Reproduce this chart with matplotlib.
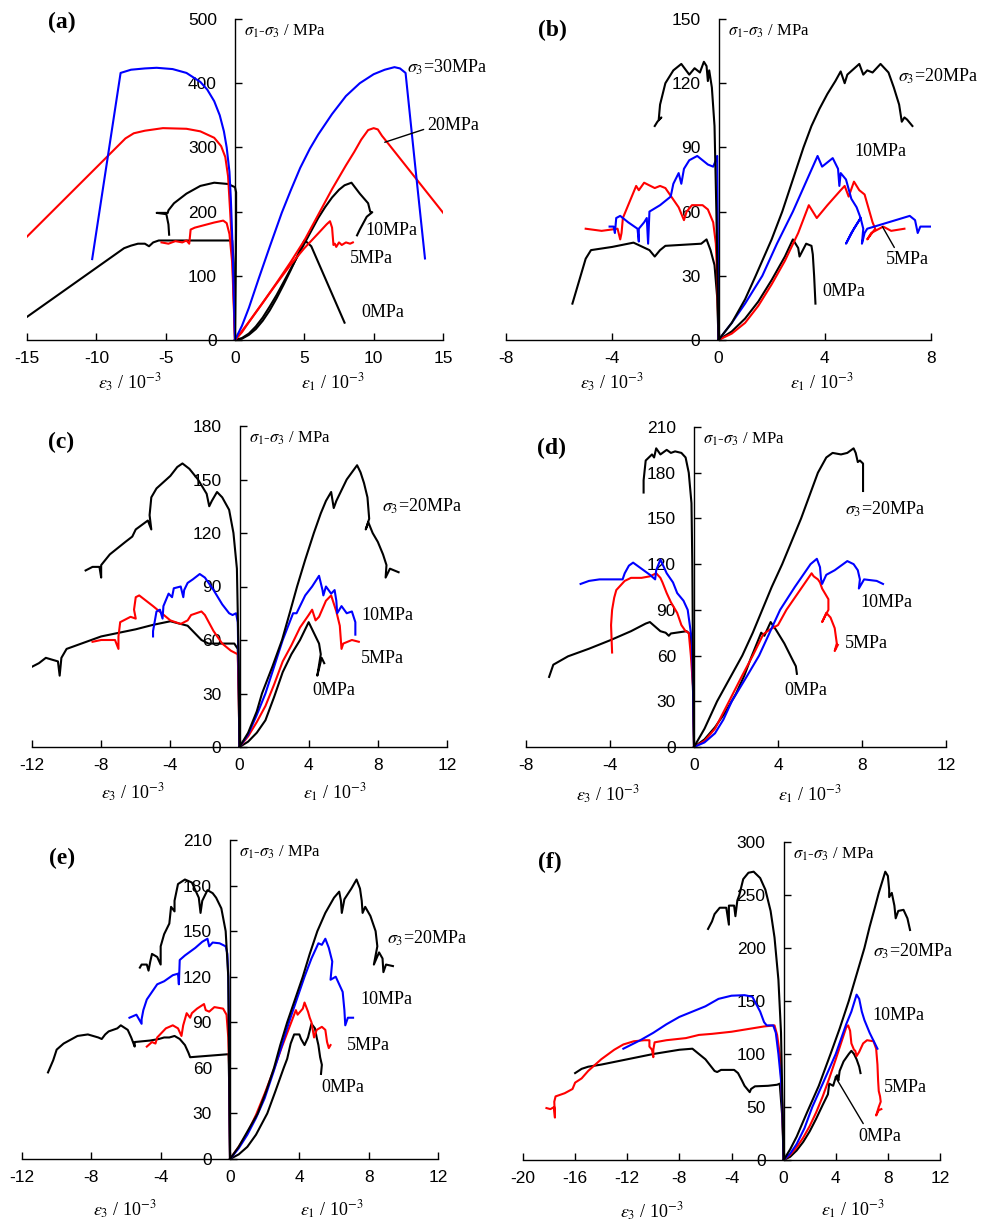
import matplotlib
matplotlib.use('Agg')
import matplotlib.pyplot as plt

plt.rcParams['font.family'] = ['Liberation Serif', 'DejaVu Serif']
plt.rcParams['mathtext.fontset'] = 'stix'
plt.rcParams['axes.unicode_minus'] = False

W, H = 991, 1222
BLUE, RED, BLACK = '#0000ff', '#ff0000', '#000000'

# ---------------- panel (a) ----------------
a_30_e1 = [(0,0),(0.5,22),(1,50),(1.7,95),(2.5,145),(3.37,198),(4,232),(4.7,268),(5.4,298),(6,320),(7,352),
           (8,380),(9,400),(10,414),(10.8,421),(11.5,425),(11.9,423),(12.3,416),(13.0,270),(13.7,127)]
a_30_e3 = [(0,0),(-0.1,80),(-0.2,160),(-0.3,220),(-0.4,262),(-0.6,300),(-0.8,325),(-1.1,350),(-1.5,372),
           (-2,390),(-2.5,402),(-3.5,416),(-4.5,422),(-5.65,424),(-6.5,423),(-7.5,421),(-8.25,416),(-10.3,126)]
a_20_e1 = [(0,0),(0.5,12),(1,28),(2,58),(3,89),(4,121),(5,155),(6,195),(7,235),(8,272),(8.6,293),(9.1,312),
           (9.6,327),(10,330),(10.3,328),(10.6,318),(10.9,310),(15.2,193)]
a_20_e3 = [(0,0),(-0.1,70),(-0.2,140),(-0.35,200),(-0.5,255),(-0.7,285),(-1,302),(-1.5,315),(-2.5,325),
           (-3.5,329),(-5.2,330),(-6.5,326),(-7.3,322),(-7.9,314),(-15,161)]
a_10_e1 = [(0,0),(0.5,3),(1,10),(1.5,21),(2,35),(2.5,52),(3,70),(3.5,90),(4,110),(5,150),(6,190),(6.5,207),
           (7,222),(7.5,234),(7.9,241),(8.4,245),(9.0,228),(9.6,213),(9.75,200),(9.9,199),(9.5,192),
           (9.0,172),(8.8,163)]
a_10_e3 = [(0,0),(0.05,100),(0.08,180),(0.08,230),(0,238),(-0.5,243),(-1.5,245),(-2.5,240),(-3.5,228),
           (-4.4,213),(-4.8,202),(-4.85,198),(-5.65,198),(-4.95,196),(-4.8,180),(-4.75,164)]
a_5_e1 = [(0,0),(1,28),(2,58),(3,88),(4,117),(5,143),(6,166),(6.6,180),(6.85,185),(7.0,175),(7.1,148),
          (7.2,150),(7.3,145),(7.5,152),(7.7,148),(8.0,152),(8.3,150),(8.5,152)]
a_5_e3 = [(0,0),(-0.1,60),(-0.2,120),(-0.4,165),(-0.6,182),(-0.85,186),(-1.5,183),(-2.9,175),(-3.2,172),
          (-3.3,150),(-3.5,155),(-3.8,152),(-4.3,154),(-4.8,150),(-5.3,152)]
a_0_e1 = [(0,0),(0.5,2),(1,8),(1.5,17),(2,30),(2.5,46),(3,65),(3.5,86),(4,108),(4.5,131),(5,155),(5.2,152),
          (5.5,146),(7.9,27)]
a_0_e3 = [(0,0),(-0.05,60),(-0.1,120),(-0.2,155),(-5.5,155),(-5.9,152),(-6.2,146),(-6.5,150),(-7.0,150),
          (-7.5,147),(-8.0,143),(-15,36)]

# ---------------- panel (b) ----------------
b_20_e1 = [(0,0),(0.5,8),(1,19),(1.4,30),(2,47),(2.4,60),(2.8,75),(3.2,90),(3.5,100),(3.8,108),(4.1,115),
           (4.4,121),(4.6,125.5),(4.75,120),(4.85,124),(5.3,129),(5.45,124),(5.6,126),(5.8,125),(6.1,129),
           (6.4,125),(6.6,118),(6.8,110),(6.9,102),(7.0,104),(7.1,103),(7.3,100)]
b_20_e3 = [(0,0),(-0.08,60),(-0.15,100),(-0.25,118),(-0.3,122),(-0.35,126),(-0.4,121),(-0.45,128),(-0.55,130),
           (-0.7,125),(-0.9,127),(-1.1,124),(-1.4,129),(-1.7,126),(-2.0,120),(-2.2,110),(-2.25,103),
           (-2.15,104),(-2.3,102),(-2.4,100)]
b_10_e1 = [(0,0),(0.5,8),(1,17),(1.65,30),(2.2,45),(2.8,60),(3.3,74),(3.73,86),(3.9,81),(4.3,85),(4.5,80),
           (4.55,72),(4.6,78),(4.8,75),(5.0,66),(5.2,62),(5.35,57),(5.1,52),(4.8,45),(5.0,50),(5.35,57),
           (5.45,52),(5.4,45),(5.5,50),(5.6,52),(6.4,55),(7.2,58),(7.4,56),(7.5,50),(7.6,53),(8.0,53)]
b_10_e3 = [(0,0),(-0.02,40),(-0.04,70),(-0.05,86),(-0.1,84),(-0.2,81),(-0.4,82),(-0.8,86),(-1.1,84),
           (-1.3,80),(-1.4,73),(-1.5,78),(-1.7,73),(-1.8,67),(-2.2,63),(-2.6,60),(-2.65,45),(-2.7,57),
           (-2.8,55),(-3.0,52),(-3.0,46),(-3.05,52),(-3.4,55),(-3.7,58),(-3.85,57),(-3.9,50),(-3.95,53),(-4.1,53)]
b_5_e1 = [(0,0),(0.5,3),(1,8),(1.5,16),(2,26),(2.5,37),(3,50),(3.4,63),(3.7,57),(4.1,63),(4.6,70),(4.75,72),
          (4.9,67),(5.1,74),(5.3,70),(5.5,68),(5.8,55),(5.9,52),(5.6,47),(5.75,50),(6.2,53),(6.5,51),(7,52)]
b_5_e3 = [(0,0),(-0.05,30),(-0.1,45),(-0.2,55),(-0.4,61),(-0.6,63),(-1.0,63),(-1.2,60),(-1.3,56),(-1.5,62),
          (-2.0,71),(-2.2,72),(-2.4,71),(-2.8,73.5),(-3.0,70),(-3.1,72),(-3.6,57),(-3.65,50),(-3.7,47),
          (-3.8,52),(-4.4,51),(-5,52)]
b_0_e1 = [(0,0),(0.5,4),(1,10),(1.5,18),(2,28),(2.5,39),(2.8,47),(3.0,43),(3.05,39),(3.3,45),(3.5,44),
          (3.55,40),(3.6,30),(3.65,17)]
b_0_e3 = [(0,0),(-0.05,20),(-0.15,35),(-0.3,42),(-0.45,47),(-0.55,46),(-0.65,45),(-2.0,44),(-2.2,42),
          (-2.4,39),(-2.6,42),(-3.2,45.5),(-4.0,43.5),(-4.8,42),(-5.0,38),(-5.5,17)]

# ---------------- panel (c) ----------------
c_20_e1 = [(0,0),(0.5,8),(1,20),(1.3,30),(1.9,45),(2.46,60),(2.9,75),(3.33,90),(3.8,105),(4.3,120),(4.7,131),
           (5.0,138),(5.3,143),(5.45,134),(5.6,138),(6.2,150),(6.8,158),(7.0,154),(7.2,148),(7.4,140),
           (7.5,128),(7.3,122),(7.45,126),(7.7,120),(8.0,115),(8.3,108),(8.5,102),(8.45,95),(8.7,100),(9.2,98)]
c_20_e3 = [(0,0),(-0.05,50),(-0.15,100),(-0.35,120),(-0.6,133),(-1.0,140),(-1.3,143),(-1.6,138),(-1.75,135),
           (-1.9,142),(-2.4,150),(-2.9,156),(-3.3,159),(-3.6,157),(-4.0,152),(-4.8,145),(-5.1,140),
           (-5.2,130),(-5.1,122),(-5.3,127),(-6.0,122),(-6.2,118),(-6.6,115),(-7.5,108),(-8.0,102),
           (-8.0,95),(-8.1,101),(-8.5,101),(-8.9,99)]
c_10_e1 = [(0,0),(0.5,7),(1,18),(1.5,30),(2,45),(2.5,60),(3.1,75),(3.3,75),(3.8,85),(4.2,90),(4.6,96),
           (4.8,88),(4.85,85),(5.0,90),(5.3,86),(5.5,88),(5.6,82),(5.65,75),(5.9,79),(6.2,75),(6.5,76),
           (6.7,70),(6.7,63)]
c_10_e3 = [(0,0),(-0.05,40),(-0.1,70),(-0.2,75),(-0.4,74),(-0.6,75),(-1.0,80),(-1.5,88),(-2.0,95),(-2.3,97),
           (-2.7,94),(-3.0,92),(-3.2,88),(-3.25,84),(-3.4,90),(-3.8,89),(-3.9,84),(-4.1,86),(-4.4,79),
           (-4.45,72),(-4.6,77),(-4.8,76),(-5.0,65),(-5.0,62)]
c_5_e1 = [(0,0),(0.5,6),(1,14),(1.5,23),(2,35),(2.5,48),(3,57),(3.5,67),(4,74),(4.2,77),(4.4,71),(4.6,73),
          (5.0,82),(5.3,85),(5.6,76),(5.8,68),(5.9,55),(6.0,58),(6.5,60),(6.9,59)]
c_5_e3 = [(0,0),(-0.05,30),(-0.1,52),(-0.5,54),(-1.0,58),(-1.5,65),(-2.0,74),(-2.2,76),(-2.8,74),(-3.0,71),
          (-3.4,69),(-4,71),(-4.5,75),(-5,79),(-5.8,85),(-6.0,84),(-6.1,77),(-6.0,72),(-6.3,73),(-6.9,70),
          (-7.0,62),(-7.0,55),(-7.2,60),(-8,60),(-8.5,59)]
c_0_e1 = [(0,0),(0.5,3),(1,8),(1.5,15),(2,28),(2.5,42),(3,52),(3.5,60),(4,70),(4.3,64),(4.6,58),(4.7,52),
          (4.5,40),(4.75,50),(4.9,47)]
c_0_e3 = [(0,0),(-0.05,30),(-0.1,55),(-0.3,58),(-1.0,58),(-1.8,58),(-2.2,60),(-2.6,64),(-3.0,68),(-3.4,69),
          (-4,70.5),(-5,68.5),(-6,66),(-8,62),(-10,55),(-10.3,50),(-10.4,40),(-10.5,48),(-11.2,50),
          (-11.6,47),(-12,45)]

# ---------------- panel (d) ----------------
d_20_e1 = [(0,0),(0.5,12),(1.1,30),(1.7,45),(2.3,60),(2.8,75),(3.25,90),(3.7,105),(4.2,120),(4.65,135),
           (5.1,150),(5.5,165),(5.9,180),(6.3,190),(6.6,193),(7,192),(7.3,193),(7.6,196),(7.7,193),(7.8,187),
           (7.9,188),(8.05,186),(8.05,168)]
d_20_e3 = [(0,0),(-0.05,60),(-0.08,120),(-0.12,160),(-0.25,180),(-0.4,190),(-0.6,193),(-0.9,194),(-1.1,193),
           (-1.3,195),(-1.6,192),(-1.8,196),(-1.9,190),(-2.0,192),(-2.3,188),(-2.4,175),(-2.4,167)]
d_10_e1 = [(0,0),(0.5,3),(1,9),(1.4,18),(1.8,30),(2.5,46),(3.1,60),(3.6,75),(4.1,90),(4.8,105),(5.55,120),
           (5.85,123.5),(6.0,118),(6.05,110),(6.1,107),(6.3,113),(6.7,116),(7.3,122),(7.6,120),(7.8,116),
           (7.9,110),(7.85,104),(8.1,110),(8.7,109),(9.0,107)]
d_10_e3 = [(0,0),(-0.05,40),(-0.1,70),(-0.3,90),(-0.5,96),(-0.8,101),(-1.0,108),(-1.3,114),(-1.5,120),
           (-1.6,123),(-1.8,116),(-1.85,110),(-2.1,113),(-2.6,118),(-2.9,121),(-3.1,119),(-3.3,114),
           (-3.4,110),(-3.6,110),(-4.5,110),(-5.0,109),(-5.4,107)]
d_5_e1 = [(0,0),(0.5,4),(1,12),(1.67,30),(2.3,47),(2.8,60),(3.3,74),(3.6,77),(4.0,80),(4.4,90),(5.0,102),
          (5.6,114),(5.7,112),(5.9,110),(6.0,108),(6.1,104),(6.4,97),(6.4,90),(6.1,82),(6.3,88),(6.5,85),
          (6.7,78),(6.8,68),(6.7,63),(6.85,67)]
d_5_e3 = [(0,0),(-0.05,40),(-0.15,60),(-0.25,75),(-0.4,76),(-0.6,80),(-0.8,88),(-1.1,95),(-1.3,101),
          (-1.5,108),(-1.6,111),(-1.8,114),(-2.1,112),(-2.5,111),(-3.0,111),(-3.3,109),(-3.7,103),
          (-3.8,98),(-3.9,90),(-3.95,80),(-3.9,62)]
d_0_e1 = [(0,0),(0.5,5),(1,13),(1.5,23),(2,35),(2.4,47),(2.7,58),(3.2,75),(3.35,73),(3.45,76),(3.65,82),
          (3.9,77),(4.3,68),(4.7,57),(4.85,53),(4.9,48)]
d_0_e3 = [(0,0),(-0.05,40),(-0.1,60),(-0.2,74),(-0.35,76),(-0.6,75.5),(-1.1,74.5),(-1.2,73),(-1.35,75),
          (-1.6,76),(-2.1,82),(-2.3,81),(-3,76),(-4,70),(-5,64.5),(-6,59.5),(-6.7,54),(-6.8,50),(-6.9,46)]

# ---------------- panel (e) ----------------
e_20_e1 = [(0,0),(0.5,8),(1,18),(1.6,30),(2.1,45),(2.54,60),(2.9,75),(3.3,90),(3.75,105),(4.2,120),(4.6,135),
           (5.04,150),(5.5,162),(6.0,172),(6.3,176),(6.4,170),(6.45,162),(6.6,171),(7.0,178),(7.3,184),
           (7.5,178),(7.6,170),(7.65,162),(7.8,166),(8.1,160),(8.4,150),(8.5,140),(8.3,128),(8.6,136),
           (8.8,132),(8.85,123),(9.0,128),(9.4,127)]
e_20_e3 = [(0,0),(-0.05,60),(-0.1,120),(-0.25,150),(-0.5,165),(-0.8,172),(-1.0,175),(-1.3,177),(-1.6,170),
           (-1.7,162),(-1.8,172),(-2.2,182),(-2.6,184),(-3.0,181),(-3.2,170),(-3.2,163),(-3.4,166),
           (-3.5,155),(-3.8,148),(-4.0,140),(-4.0,128),(-4.2,133),(-4.5,135),(-4.6,130),(-4.7,124),
           (-4.8,128),(-5.1,128),(-5.2,126)]
e_10_e1 = [(0,0),(0.5,7),(1,16),(1.5,27),(2,40),(2.5,57),(3,75),(3.4,90),(3.85,105),(4.3,120),(4.7,132),
           (5.1,142),(5.3,141),(5.5,145),(5.7,139),(5.9,130),(5.8,118),(6.1,120),(6.5,110),(6.6,98),
           (6.65,88),(6.8,93),(7.1,93)]
e_10_e3 = [(0,0),(-0.05,80),(-0.1,120),(-0.15,135),(-0.25,140),(-0.6,142),(-1.0,142.5),(-1.2,140),
           (-1.3,145),(-1.6,143),(-2.0,139),(-2.6,134),(-2.9,131),(-2.95,115),(-3.0,122),(-3.3,121),
           (-3.8,117),(-4.2,115),(-4.8,105),(-5.0,98),(-5.1,92),(-5.1,89),(-5.4,95),(-5.8,93)]
e_5_e1 = [(0,0),(0.5,8),(1,17),(1.5,29),(2,43),(2.5,58),(3,74),(3.4,86),(3.8,98),(3.9,95),(4.2,99),(4.3,103),
          (4.5,97),(4.6,93),(4.7,90),(4.85,80),(5.0,85),(5.3,87),(5.5,85),(5.6,77),(5.7,73),(5.8,75)]
e_5_e3 = [(0,0),(-0.05,60),(-0.1,80),(-0.2,95),(-0.4,99),(-0.9,100),(-1.2,97),(-1.4,98),(-1.5,102),
          (-1.9,99),(-2.2,96),(-2.3,93),(-2.5,96),(-2.6,92),(-2.7,88),(-2.8,81),(-3.0,86),(-3.3,88),
          (-3.7,86),(-4.2,80),(-4.3,76),(-4.5,77),(-4.8,74)]
e_0_e1 = [(0,0),(0.5,3),(1,8),(1.5,16),(2.15,30),(2.6,44),(3.1,60),(3.3,66),(3.5,76),(3.7,82),(4.0,82),
          (4.1,79),(4.3,75),(4.5,80),(4.7,89),(4.9,86),(5.0,80),(5.1,75),(5.2,67),(5.3,62),(5.25,56)]
e_0_e3 = [(0,0),(-0.05,50),(-0.08,69),(-2.3,67),(-2.4,70),(-2.6,75),(-2.9,79),(-3.2,81),(-3.5,80),
          (-3.8,80),(-4.1,79),(-4.6,78),(-5.5,77),(-5.5,74),(-5.6,77),(-5.7,80),(-5.9,85),(-6.3,88),
          (-6.5,86),(-7.0,84),(-7.2,82),(-7.4,79),(-7.6,80),(-8.2,82),(-8.8,81),(-9.6,76),(-10.0,72),
          (-10.2,65),(-10.5,57)]

# ---------------- panel (f) ----------------
f_20_e1 = [(0,0),(0.5,10),(1,22),(1.8,45),(2.7,70),(3.6,100),(4.3,124),(5.0,150),(5.6,175),(6.2,200),
           (6.6,220),(7.0,238),(7.3,252),(7.6,264),(7.8,272),(8.0,268),(8.1,255),(8.1,248),(8.3,252),
           (8.5,240),(8.6,228),(8.8,235),(9.2,236),(9.5,228),(9.7,217)]
f_20_e3 = [(0,0),(-0.1,60),(-0.2,120),(-0.4,170),(-0.7,210),(-1.0,235),(-1.4,255),(-1.8,266),(-2.3,272),
           (-2.7,271),(-3.1,265),(-3.3,255),(-3.4,250),(-3.55,245),(-3.7,230),(-3.8,240),(-4.2,240),
           (-4.2,222),(-4.4,238),(-4.9,238),(-5.3,232),(-5.5,225),(-5.8,218)]
f_10_e1 = [(0,0),(0.5,6),(1,15),(1.6,30),(2.2,50),(3,72),(3.5,86),(4.0,100),(4.8,128),(5.2,140),(5.6,156),
           (5.8,152),(6.0,140),(6.2,132),(6.6,120),(7.0,110),(7.2,105)]
f_10_e3 = [(0,0),(-0.1,50),(-0.2,75),(-0.4,100),(-0.6,120),(-0.8,127),(-1.3,127),(-1.5,130),(-1.8,140),
           (-2.1,147),(-2.4,154),(-3.0,155.5),(-4.0,155),(-5.0,152),(-6.0,145),(-7,140),(-8,135),(-9.0,128),
           (-10,120),(-11,113),(-12.3,105)]
f_5_e1 = [(0,0),(0.5,5),(1,12),(1.5,21),(2,32),(2.5,45),(3,60),(3.5,77),(4,95),(4.4,110),(4.8,125),(4.95,127),
          (5.1,122),(5.2,110),(5.4,104),(5.5,103),(5.6,98),(5.8,102),(6.1,110),(6.4,113),(6.9,112),(7.1,105),
          (7.2,90),(7.25,75),(7.3,65),(7.4,60),(7.45,55),(7.3,50),(7.1,42),(7.3,47),(7.5,48)]
f_5_e3 = [(0,0),(-0.1,50),(-0.2,80),(-0.3,100),(-0.5,118),(-0.7,127),(-1.5,126),(-2.5,124),(-4,121),
          (-5.5,119),(-6.5,118),(-7.5,115),(-9.0,113),(-9.9,111),(-10.0,104),(-10.0,97),(-10.1,104),
          (-10.3,107),(-10.3,113),(-10.7,113),(-11.5,112),(-12.3,109),(-13,104),(-14,95),(-15,84),
          (-15.5,77),(-16,73),(-16.2,67),(-16.8,63),(-17.5,60),(-17.6,55),(-17.55,40),(-17.6,50),
          (-17.9,48),(-18.2,49)]
f_0_e1 = [(0,0),(0.5,3),(1,9),(1.5,17),(2,27),(2.5,39),(3,52),(3.4,62),(3.5,72),(3.8,70),(4.0,78),(4.1,80),
          (4.2,75),(4.3,84),(4.6,93),(5.0,100),(5.2,103),(5.4,100),(5.6,95),(5.8,88),(5.9,82)]
f_0_e3 = [(0,0),(-0.1,40),(-0.3,72),(-0.5,71),(-1.2,70),(-2.2,69.5),(-2.5,67),(-2.6,64),(-3.0,70),
          (-3.2,75),(-3.5,82),(-3.8,85),(-4.8,85),(-5.1,83),(-5.3,84),(-6.0,95),(-6.5,100),(-7.0,105),
          (-8,104),(-10,100),(-12,95),(-14,90),(-15,88),(-15.5,86),(-16,82)]

# axis ranges / ticks
a_xticks, a_yticks = [-15, -10, -5, 0, 5, 10, 15], [0, 100, 200, 300, 400, 500]
b_xticks, b_yticks = [-8, -4, 0, 4, 8], [0, 30, 60, 90, 120, 150]
c_xticks, c_yticks = [-12, -8, -4, 0, 4, 8, 12], [0, 30, 60, 90, 120, 150, 180]
d_xticks, d_yticks = [-8, -4, 0, 4, 8, 12], [0, 30, 60, 90, 120, 150, 180, 210]
e_xticks, e_yticks = [-12, -8, -4, 0, 4, 8, 12], [0, 30, 60, 90, 120, 150, 180, 210]
f_xticks, f_yticks = [-20, -16, -12, -8, -4, 0, 4, 8, 12], [0, 50, 100, 150, 200, 250, 300]

fig = plt.figure(figsize=(W / 100, H / 100), dpi=100)


def add_ax(l, r, b, t):
    return fig.add_axes([l / W, 1 - b / H, (r - l) / W, (b - t) / H])


def fp(x, y):
    return x / W, 1 - y / H


def setup(ax, xt, yt):
    ax.set_xlim(xt[0], xt[-1])
    ax.set_ylim(yt[0], yt[-1])
    ax.patch.set_visible(False)
    ax.spines['left'].set_position(('data', 0))
    ax.spines['top'].set_visible(False)
    ax.spines['right'].set_visible(False)
    for s in ('left', 'bottom'):
        ax.spines[s].set_linewidth(1.0)
    ax.set_xticks(xt)
    ax.set_yticks(yt)
    ax.tick_params(direction='in', length=5, width=1.0, labelsize=12.5)
    ax.tick_params(axis='y', pad=13)
    ax.tick_params(axis='x', pad=8)
    for lab in ax.get_xticklabels() + ax.get_yticklabels():
        lab.set_fontfamily('Liberation Sans')
    ax.annotate(r'$\sigma_1$-$\sigma_3$ / MPa', xy=(0, yt[-1]), xycoords='data',
                xytext=(6.5, -9), textcoords='offset points', ha='left', va='center', fontsize=12)


def draw(ax, curves):
    for pts, col in curves:
        xs = [p[0] for p in pts]
        ys = [p[1] for p in pts]
        ax.plot(xs, ys, color=col, lw=1.5, solid_joinstyle='round')


def lab(ax, s, x, y, leader=None, relpos=(0, 0.5)):
    if leader is None:
        ax.text(x, y, s, ha='left', va='center', fontsize=13)
    else:
        ax.annotate(s, xy=leader, xytext=(x, y), ha='left', va='center', fontsize=13,
                    arrowprops=dict(arrowstyle='-', lw=1.0, color='black', shrinkA=1, shrinkB=0,
                                    relpos=relpos))


S30 = r'$\sigma_3$=30MPa'
S20 = r'$\sigma_3$=20MPa'

# (a)
ax = add_ax(27, 443, 340, 19)
setup(ax, a_xticks, a_yticks)
draw(ax, [(a_0_e1, BLACK), (a_0_e3, BLACK), (a_10_e1, BLACK), (a_10_e3, BLACK),
          (a_5_e1, RED), (a_5_e3, RED), (a_20_e1, RED), (a_20_e3, RED),
          (a_30_e1, BLUE), (a_30_e3, BLUE)])
lab(ax, S30, 12.4, 424)
lab(ax, '20MPa', 13.9, 334, leader=(10.8, 308), relpos=(0, 0.35))
lab(ax, '10MPa', 9.4, 171)
lab(ax, '5MPa', 8.3, 127)
lab(ax, '0MPa', 9.1, 43)

# (b)
ax = add_ax(506, 931, 340, 19)
setup(ax, b_xticks, b_yticks)
draw(ax, [(b_0_e1, BLACK), (b_0_e3, BLACK), (b_5_e1, RED), (b_5_e3, RED),
          (b_10_e1, BLUE), (b_10_e3, BLUE), (b_20_e1, BLACK), (b_20_e3, BLACK)])
lab(ax, S20, 6.74, 123)
lab(ax, '10MPa', 5.1, 88)
lab(ax, '5MPa', 6.3, 37.4, leader=(6.17, 53), relpos=(0.25, 1.0))
lab(ax, '0MPa', 3.9, 22.6)

# (c)
ax = add_ax(32, 447, 747, 426)
setup(ax, c_xticks, c_yticks)
draw(ax, [(c_0_e1, BLACK), (c_0_e3, BLACK), (c_5_e1, RED), (c_5_e3, RED),
          (c_10_e1, BLUE), (c_10_e3, BLUE), (c_20_e1, BLACK), (c_20_e3, BLACK)])
lab(ax, S20, 8.24, 135)
lab(ax, '10MPa', 7.04, 74)
lab(ax, '5MPa', 7.04, 49.6)
lab(ax, '0MPa', 4.2, 31.8)

# (d)
ax = add_ax(526, 946, 747, 427)
setup(ax, d_xticks, d_yticks)
draw(ax, [(d_0_e1, BLACK), (d_0_e3, BLACK), (d_5_e1, RED), (d_5_e3, RED),
          (d_10_e1, BLUE), (d_10_e3, BLUE), (d_20_e1, BLACK), (d_20_e3, BLACK)])
lab(ax, S20, 7.19, 156)
lab(ax, '10MPa', 7.94, 95)
lab(ax, '5MPa', 7.19, 68)
lab(ax, '0MPa', 4.29, 37)

# (e)
ax = add_ax(22, 438, 1159, 840)
setup(ax, e_xticks, e_yticks)
draw(ax, [(e_0_e1, BLACK), (e_0_e3, BLACK), (e_5_e1, RED), (e_5_e3, RED),
          (e_10_e1, BLUE), (e_10_e3, BLUE), (e_20_e1, BLACK), (e_20_e3, BLACK)])
lab(ax, S20, 9.08, 145)
lab(ax, '10MPa', 7.54, 105)
lab(ax, '5MPa', 6.73, 75)
lab(ax, '0MPa', 5.29, 47)

# (f)
ax = add_ax(523, 940, 1160, 842)
setup(ax, f_xticks, f_yticks)
draw(ax, [(f_0_e1, BLACK), (f_0_e3, BLACK), (f_5_e1, RED), (f_5_e3, RED),
          (f_10_e1, BLUE), (f_10_e3, BLUE), (f_20_e1, BLACK), (f_20_e3, BLACK)])
lab(ax, S20, 6.84, 197)
lab(ax, '10MPa', 6.78, 136)
lab(ax, '5MPa', 7.73, 68.5)
lab(ax, '0MPa', 5.73, 22.6, leader=(3.97, 78.5), relpos=(0.17, 1.0))

# panel letters
for s, x, y in [('(a)', 62, 22), ('(b)', 552, 30), ('(c)', 61, 442),
                ('(d)', 552, 448), ('(e)', 62, 858), ('(f)', 550, 862)]:
    fig.text(*fp(x, y), s, ha='center', va='center', fontsize=17, fontweight='bold')

# x-axis labels
E3 = r'$\varepsilon_3$ / 10$^{-3}$'
E1 = r'$\varepsilon_1$ / 10$^{-3}$'
for s, x, y in [(E3, 130, 383), (E1, 333, 383), (E3, 612, 383), (E1, 822, 383),
                (E3, 133, 793), (E1, 335, 793), (E3, 608, 795), (E1, 810, 795),
                (E3, 125, 1210), (E1, 332, 1210), (E3, 652, 1212), (E1, 853, 1210)]:
    fig.text(*fp(x, y), s, ha='center', va='center', fontsize=13)

fig.savefig('out.png', dpi=100)
